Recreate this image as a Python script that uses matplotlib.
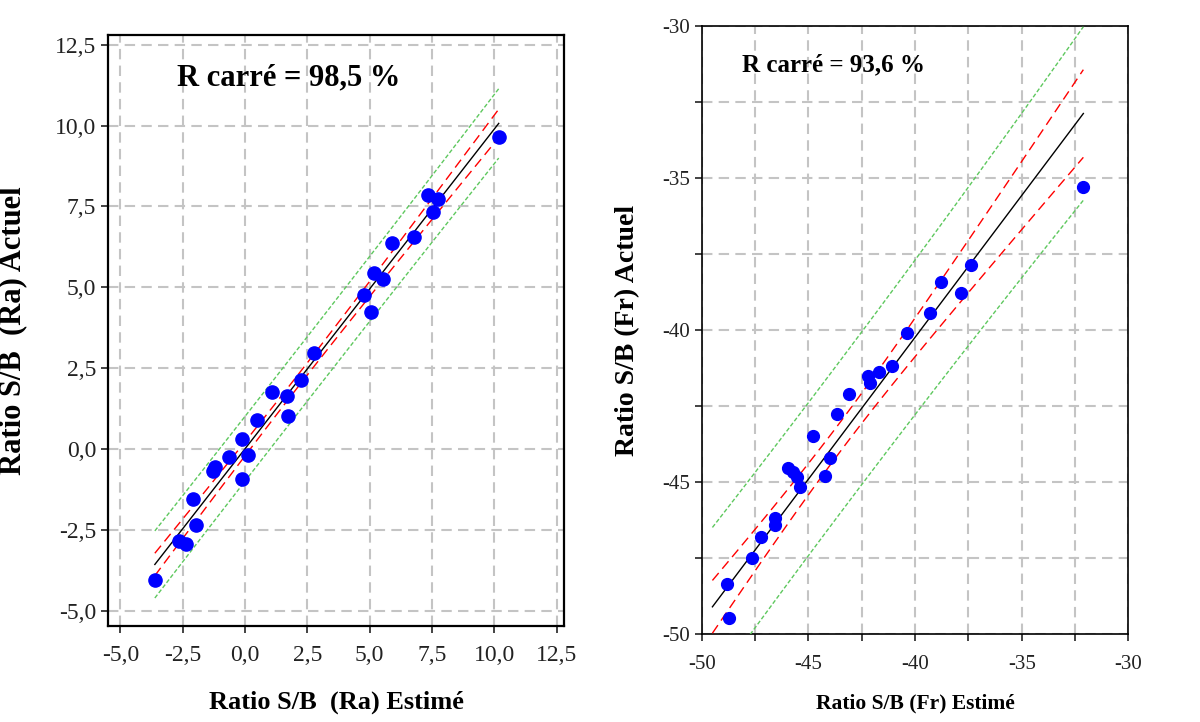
import numpy as np
import matplotlib
matplotlib.use("Agg")
from matplotlib import pyplot as plt
from matplotlib.ticker import FuncFormatter, MultipleLocator

plt.rcParams['font.family'] = ['Liberation Serif', 'DejaVu Serif']

# --- data ---
# left panel : Ra
ra_est = [10.18, 7.35, 7.76, 7.53, 5.88, 6.78, 5.17, 5.52, 4.77, 5.05, 2.75,
          2.25, 1.08, 1.67, 1.73, 0.47, -0.14, 0.12, -0.64, -1.21, -1.28,
          -0.14, -2.08, -1.95, -2.66, -2.38, -3.62]
ra_act = [9.63, 7.85, 7.72, 7.33, 6.36, 6.54, 5.43, 5.25, 4.75, 4.25, 2.96,
          2.12, 1.76, 1.63, 1.01, 0.89, 0.31, -0.20, -0.25, -0.56, -0.69,
          -0.93, -1.54, -2.35, -2.84, -2.93, -4.04]
ra_r2 = "R carré = 98,5 %"

# right panel : Fr
# (last point sits below the visible y range; the fitted line starts at its x)
fr_est = [-32.11, -37.37, -38.78, -37.84, -39.30, -40.39, -41.09, -41.67,
          -42.19, -42.11, -43.08, -43.67, -44.77, -43.99, -44.23, -45.97,
          -45.73, -45.55, -45.38, -46.55, -46.55, -47.23, -47.63, -48.80,
          -48.72, -49.50]
fr_act = [-35.31, -37.87, -38.41, -38.79, -39.45, -40.11, -41.17, -41.37,
          -41.50, -41.73, -42.11, -42.76, -43.49, -44.20, -44.80, -44.53,
          -44.68, -44.83, -45.15, -46.19, -46.41, -46.80, -47.51, -48.37,
          -49.48, -53.40]
fr_r2 = "R carré = 93,6 %"

T95 = 2.06  # student t, 97.5 %, ~25 dof


def fit_bands(x, y):
    # least squares line with 95 % confidence / prediction bands
    x = np.asarray(x)
    y = np.asarray(y)
    n = len(x)
    b, a = np.polyfit(x, y, 1)
    s = np.sqrt(np.sum((y - (a + b * x)) ** 2) / (n - 2))
    xm = x.mean()
    sxx = np.sum((x - xm) ** 2)
    xs = np.linspace(x.min(), x.max(), 120)
    yh = a + b * xs
    ci = T95 * s * np.sqrt(1.0 / n + (xs - xm) ** 2 / sxx)
    pi = T95 * s * np.sqrt(1 + 1.0 / n + (xs - xm) ** 2 / sxx)
    return xs, yh, ci, pi


def draw_panel(ax, x, y, msize):
    xs, yh, ci, pi = fit_bands(x, y)
    ax.plot(xs, yh + pi, color='#5ec85e', lw=1.0, dashes=(3, 1.6), zorder=3)
    ax.plot(xs, yh - pi, color='#5ec85e', lw=1.0, dashes=(3, 1.6), zorder=3)
    ax.plot(xs, yh + ci, color='red', lw=1.0, dashes=(7, 4), zorder=3)
    ax.plot(xs, yh - ci, color='red', lw=1.0, dashes=(7, 4), zorder=3)
    ax.plot(xs, yh, color='black', lw=1.0, zorder=4)
    ax.plot(x, y, 'o', color='#0000ff', ms=msize, mec='#0000ff', zorder=5)
    ax.grid(True, which='both', color='#c4c4c4', lw=1.5, linestyle=(0, (5, 3)))
    ax.set_axisbelow(True)
    ax.tick_params(which='both', direction='out', length=5, width=1.2,
                   colors='#222222')


comma = FuncFormatter(lambda v, p: ("%.1f" % v).replace('.', ','))

fig = plt.figure(figsize=(12, 7.22), dpi=100)

# left panel
ax1 = fig.add_axes([0.09, 0.133, 0.38, 0.8186])
draw_panel(ax1, ra_est, ra_act, 9.5)
ax1.set_xlim(-5.5, 12.8)
ax1.set_ylim(-5.47, 12.8)
ax1.xaxis.set_major_locator(MultipleLocator(2.5))
ax1.yaxis.set_major_locator(MultipleLocator(2.5))
ax1.xaxis.set_major_formatter(comma)
ax1.yaxis.set_major_formatter(comma)
ax1.tick_params(labelsize=17)
ax1.tick_params(axis='x', pad=9)
for sp in ax1.spines.values():
    sp.set_linewidth(1.6)
ax1.set_xlabel("Ratio S/B  (Ra) Estimé", fontsize=19, fontweight='bold')
ax1.set_ylabel("Ratio S/B  (Ra) Actuel", fontsize=22, fontweight='bold')
ax1.xaxis.set_label_coords(0.5, -0.11)
ax1.yaxis.set_label_coords(-0.178, 0.5)
ax1.text(0.151, 0.927, ra_r2, transform=ax1.transAxes, fontsize=22,
         fontweight='bold', ha='left', va='center')

# right panel
ax2 = fig.add_axes([0.5848, 0.1219, 0.3555, 0.842])
draw_panel(ax2, fr_est, fr_act, 8.5)
ax2.set_xlim(-50, -30)
ax2.set_ylim(-50, -30)
ax2.xaxis.set_major_locator(MultipleLocator(5))
ax2.yaxis.set_major_locator(MultipleLocator(5))
ax2.xaxis.set_minor_locator(MultipleLocator(2.5))
ax2.yaxis.set_minor_locator(MultipleLocator(2.5))
ax2.xaxis.set_major_formatter(FuncFormatter(lambda v, p: "%d" % v))
ax2.yaxis.set_major_formatter(FuncFormatter(lambda v, p: "%d" % v))
ax2.tick_params(labelsize=15)
ax2.tick_params(axis='x', pad=10)
for sp in ax2.spines.values():
    sp.set_linewidth(1.2)
ax2.set_xlabel("Ratio S/B (Fr) Estimé", fontsize=15.5, fontweight='bold')
ax2.set_ylabel("Ratio S/B (Fr) Actuel", fontsize=20, fontweight='bold')
ax2.xaxis.set_label_coords(0.5, -0.098)
ax2.yaxis.set_label_coords(-0.145, 0.5)
ax2.text(0.094, 0.936, fr_r2, transform=ax2.transAxes, fontsize=18,
         fontweight='bold', ha='left', va='center')

fig.savefig("out.png", dpi=100)
